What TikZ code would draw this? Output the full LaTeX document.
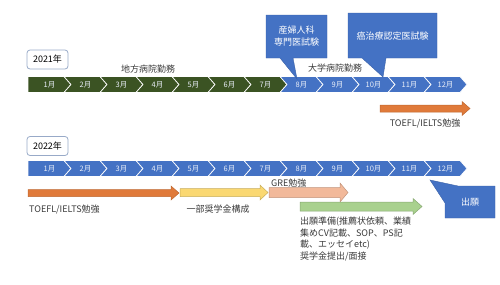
\documentclass[tikz,border=0pt]{standalone}
\usepackage{fontspec}
\setmainfont{Noto Sans CJK JP}
\definecolor{dgreen}{HTML}{3B5323}
\definecolor{cblue}{HTML}{4472C4}
\definecolor{boxline}{HTML}{98AAC8}
\definecolor{corange}{HTML}{E07A3A}
\definecolor{cyellow}{HTML}{FAD872}
\definecolor{cpeach}{HTML}{F2B99A}
\definecolor{cgreen}{HTML}{A9D18E}
\definecolor{txt}{HTML}{3A3A3A}
\begin{document}
\begin{tikzpicture}[x=1pt,y=-1pt,
  lbl/.style={font=\fontsize{9}{11.7}\selectfont, text=txt, inner sep=0pt},
  mon/.style={font=\fontsize{7.5}{9}\selectfont, text=white!88!cblue, inner sep=0pt},
  yearbox/.style={draw=boxline, line width=0.8pt, rounded corners=3pt, fill=white,
    minimum width=41pt, minimum height=19pt, inner sep=0pt, font=\fontsize{9}{11}\selectfont},
  chev/.style={draw=white, line width=0.7pt},
  blk/.style={line width=0.5pt},
  callout/.style={fill=cblue, draw=cblue!85!black, line width=0.4pt},
  ctext/.style={text=white, font=\fontsize{9}{12}\selectfont, align=center, inner sep=0pt}
]
\useasboundingbox (0,0) rectangle (500,284);

% ---- 2021 bar
\foreach \i in {0,...,11}{
  \pgfmathsetmacro\xl{28+36*\i}
  \pgfmathsetmacro\xr{\xl+36}
  \pgfmathtruncatemacro\mnum{\i+1}
  \ifnum\i<7 \def\cc{dgreen}\else\def\cc{cblue}\fi
  \ifnum\i=0
    \filldraw[chev, fill=\cc] (\xl,76.5) -- (\xr,76.5) -- (\xr+7,84.5) -- (\xr,92.5) -- (\xl,92.5) -- cycle;
  \else
    \filldraw[chev, fill=\cc] (\xl,76.5) -- (\xr,76.5) -- (\xr+7,84.5) -- (\xr,92.5) -- (\xl,92.5) -- (\xl+7,84.5) -- cycle;
  \fi
  \node[mon] (a\mnum) at (\xl+21.5,84.5) {{\mnum}月};
}

% ---- 2022 bar
\foreach \i in {0,...,11}{
  \pgfmathsetmacro\xl{28+36*\i}
  \pgfmathsetmacro\xr{\xl+36}
  \pgfmathtruncatemacro\mnum{\i+1}
  \ifnum\i=0
    \filldraw[chev, fill=cblue] (\xl,160.5) -- (\xr,160.5) -- (\xr+7,168.5) -- (\xr,176.5) -- (\xl,176.5) -- cycle;
  \else
    \filldraw[chev, fill=cblue] (\xl,160.5) -- (\xr,160.5) -- (\xr+7,168.5) -- (\xr,176.5) -- (\xl,176.5) -- (\xl+7,168.5) -- cycle;
  \fi
  \node[mon] (b\mnum) at (\xl+21.5,168.5) {{\mnum}月};
}

% ---- year boxes
\node[yearbox] (y21) at (47.5,59.5) {2021年};
\node[yearbox] (y22) at (47.5,146) {2022年};

% ---- labels 2021
\node[lbl] (chiho) at (148,69) {地方病院勤務};
\node[lbl] (daigaku) at (335,68) {大学病院勤務};

% ---- callouts 2021
\filldraw[callout] (266,15) -- (327,15) -- (327,58) -- (293,58) -- (297,79) -- (280,58) -- (266,58) -- cycle;
\node[ctext] (c1) at (296.5,36) {産婦人科\\専門医試験};
\filldraw[callout] (348,13) -- (437,13) -- (437,58) -- (386,58) -- (383,77) -- (362,58) -- (348,58) -- cycle;
\node[ctext] (c2) at (392.5,36) {癌治療認定医試験};

% ---- 2021 orange arrow
\filldraw[blk, fill=corange, draw=corange!85!black] (380,105) -- (462,105) -- (462,101.5) -- (470,108.5) -- (462,115.5) -- (462,112) -- (380,112) -- cycle;
\node[lbl] (t21) at (425,123.5) {TOEFL/IELTS勉強};

% ---- 2022 arrows
\filldraw[blk, fill=corange, draw=corange!85!black] (28,189.5) -- (171,189.5) -- (171,186) -- (179,193) -- (171,200) -- (171,196.5) -- (28,196.5) -- cycle;
\node[lbl, anchor=west] (t22) at (29,210) {TOEFL/IELTS勉強};

\filldraw[blk, fill=cyellow, draw=cyellow!80!black] (180,188.5) -- (260,188.5) -- (260,185) -- (268,192.5) -- (260,200) -- (260,196.5) -- (180,196.5) -- cycle;
\node[lbl] (sch) at (218,209) {一部奨学金構成};

\filldraw[blk, fill=cpeach, draw=cpeach!80!black] (269,187.5) -- (340,187.5) -- (340,183) -- (348,192.5) -- (340,202) -- (340,197.5) -- (269,197.5) -- cycle;
\node[lbl, anchor=west] (gre) at (271,183) {GRE勉強};

\filldraw[blk, fill=cgreen, draw=cgreen!80!black] (300,202) -- (413,202) -- (413,198.5) -- (422,206.5) -- (413,214.5) -- (413,211) -- (300,211) -- cycle;
\node[lbl, anchor=north west, align=left] (prep) at (300,216.5) {出願準備(推薦状依頼、業績\\集めCV記載、SOP、PS記\\載、エッセイetc)\\奨学金提出/面接};

% ---- callout 2022
\filldraw[callout] (458,186) -- (495,186) -- (495,218) -- (445,218) -- (445,203) -- (430,180) -- cycle;
\node[ctext] (c3) at (470,202) {出願};
\end{tikzpicture}
\end{document}
